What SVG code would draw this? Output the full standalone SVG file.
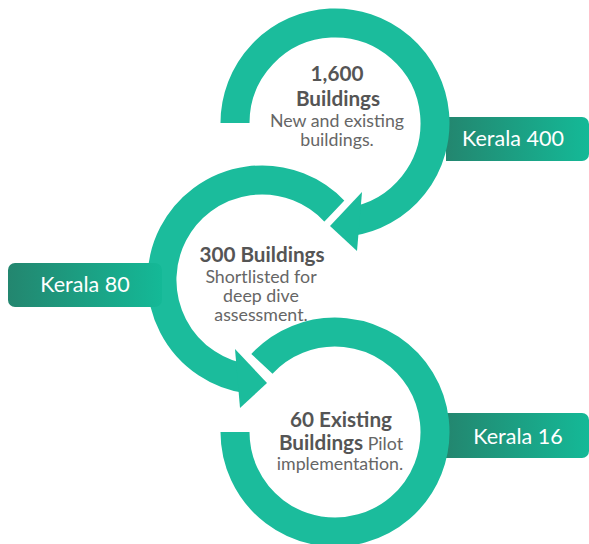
<svg xmlns="http://www.w3.org/2000/svg" width="589" height="544" viewBox="0 0 589 544">
<defs>
<linearGradient id="gBadge" x1="0" y1="0" x2="1" y2="0">
<stop offset="0" stop-color="#23866f"/>
<stop offset="1" stop-color="#14b997"/>
</linearGradient>
<style>
.ring{fill:none;stroke:#1bbc9c;stroke-width:29;stroke-linecap:butt}
.head{fill:#1bbc9c}
.gap{fill:none;stroke:#ffffff;stroke-width:14;stroke-linejoin:miter;stroke-linecap:butt}
.badge{fill:url(#gBadge)}
.title{font-family:Lato,"Liberation Sans",sans-serif;font-weight:bold;font-size:20.7px;fill:#555555;text-anchor:middle}
.body{font-family:Lato,"Liberation Sans",sans-serif;font-size:17.8px;fill:#666666;text-anchor:middle}
.lbl{font-family:Lato,"Liberation Sans",sans-serif;font-size:21.5px;fill:#ffffff;text-anchor:middle}
</style>
</defs>
<rect width="589" height="544" fill="#ffffff"/>
<g id="badge-kerala400"><path class="badge" d="M446,117 H582 A7,7 0 0 1 589,124 V154 A7,7 0 0 1 582,161 H446 Z"/><text class="lbl" x="513" y="146">Kerala 400</text></g>
<g id="badge-kerala16"><path class="badge" d="M446,413 H582 A7,7 0 0 1 589,420 V451 A7,7 0 0 1 582,458 H446 Z"/><text class="lbl" x="518" y="444">Kerala 16</text></g>
<g id="connectors">
<path id="ring3" class="ring" d="M261.9,363.8 A100,100 0 1 1 235,432"/>
<path id="ring1" class="ring" d="M235,123 A100,100 0 1 1 348.9,222"/>
<path id="ring2" class="ring" d="M335.1,211.8 A100,100 0 1 0 248.1,379"/>
<polyline class="gap" points="362,192 330,226 357,251"/>
<polygon class="head" points="362,192 330,226 357,251"/>
<polyline class="gap" points="235,349 267,383 240,408"/>
<polygon class="head" points="235,349 267,383 240,408"/>
</g>
<g id="node1">
<text class="title" x="337" y="81">1,600</text>
<text class="title" x="338" y="106">Buildings</text>
<text class="body" x="337" y="127">New and existing</text>
<text class="body" x="337" y="146">buildings.</text>
</g>
<g id="node2">
<text class="title" x="262" y="262">300 Buildings</text>
<text class="body" x="261" y="283">Shortlisted for</text>
<text class="body" x="261" y="302">deep dive</text>
<text class="body" x="261" y="321">assessment.</text>
</g>
<g id="node3">
<text class="title" x="341" y="427">60 Existing</text>
<text x="341" y="450" class="body"><tspan class="title" style="font-size:20.7px">Buildings</tspan> Pilot</text>
<text class="body" x="340" y="470">implementation.</text>
</g>
<g id="badge-kerala80"><rect class="badge" x="8" y="263" width="154" height="44" rx="7"/><text class="lbl" x="85" y="292">Kerala 80</text></g>
</svg>
